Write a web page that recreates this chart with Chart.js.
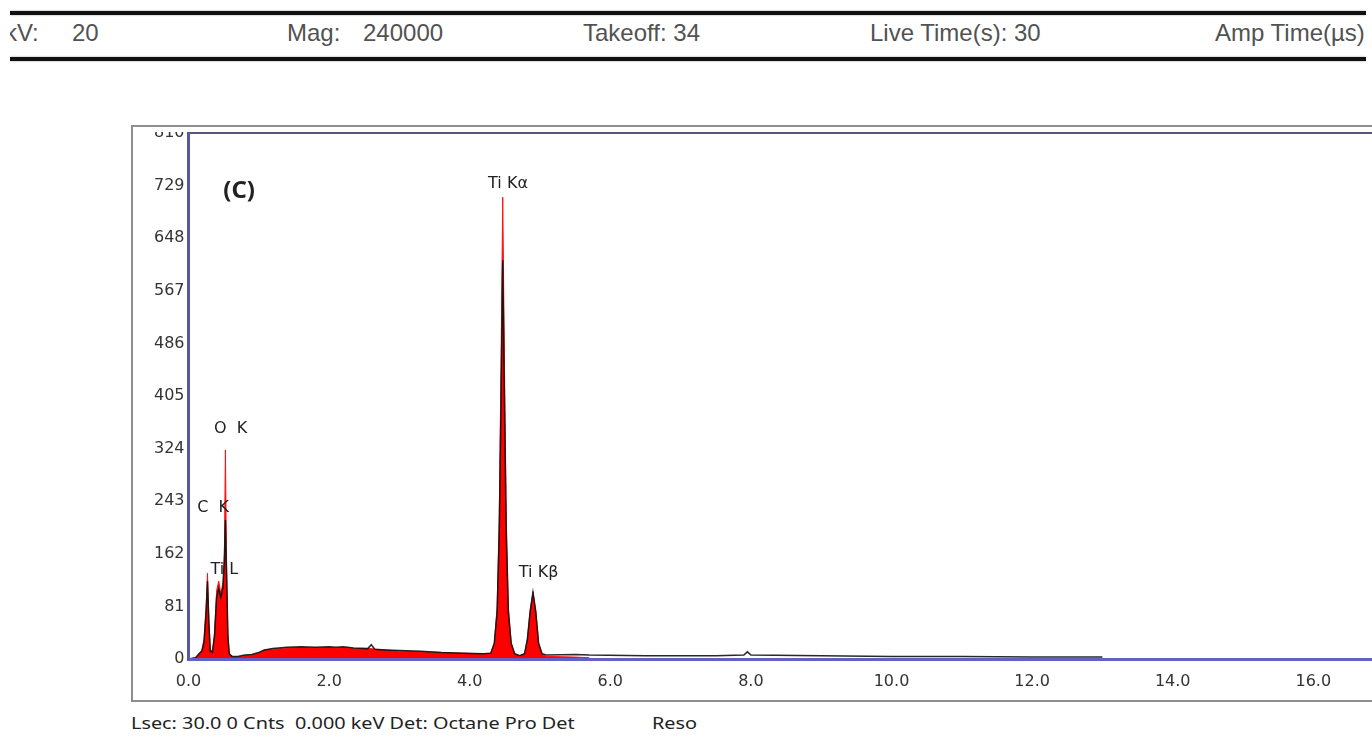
<!DOCTYPE html>
<html>
<head>
<meta charset="utf-8">
<script src="https://cdn.jsdelivr.net/npm/chart.js@4.4.1/dist/chart.umd.min.js"></script>
<style>
html, body { margin: 0; padding: 0; width: 1372px; height: 737px; overflow: hidden; background: #fff; }
#header { position: absolute; left: 10px; top: 0; width: 1356px; height: 70px; overflow: hidden; }
.rule { position: absolute; left: 0; right: 0; height: 4px; background: #111; box-shadow: 0 0 2px #888; }
.htxt { position: absolute; top: 19px; font-family: "Liberation Sans", Arial, sans-serif; font-size: 24px;
        line-height: 28px; color: #525252; white-space: pre; }
#frame { position: absolute; left: 131px; top: 125px; width: 1300px; height: 577px;
         border: 2px solid #8e8e8e; border-right: none; box-sizing: border-box; }
#clip { position: absolute; left: 0; top: 5px; right: 0; bottom: 0; overflow: hidden; }
#plot { position: absolute; left: 0; top: -20px; }
.ftxt { position: absolute; top: 712px; font-family: "Noto Sans", sans-serif; font-size: 16px;
        line-height: 22px; color: #222; white-space: pre; transform: scaleX(1.24); transform-origin: left center; }
</style>
</head>
<body>
<div id="header">
    <div class="rule" style="top: 11px;"></div>
    <div class="rule" style="top: 57px;"></div>
    <span class="htxt" style="left: -5px;">kV:</span>
    <span class="htxt" style="left: 62px;">20</span>
    <span class="htxt" style="left: 277px;">Mag:</span>
    <span class="htxt" style="left: 353px;">240000</span>
    <span class="htxt" style="left: 573px;">Takeoff: 34</span>
    <span class="htxt" style="left: 860px;">Live Time(s): 30</span>
    <span class="htxt" style="left: 1205px;">Amp Time(µs)</span>
</div>

<div id="frame">
    <div id="clip">
        <canvas id="plot" width="1239" height="588"></canvas>
    </div>
</div>

<span class="ftxt" style="left: 131px;">Lsec: 30.0 0 Cnts  0.000 keV Det: Octane Pro Det</span>
<span class="ftxt" style="left: 652px;">Reso</span>

<script>
// energy axis (keV) and counts
const energy = [0.00, 0.10, 0.15, 0.19, 0.22, 0.25, 0.27, 0.29, 0.31, 0.34, 0.37, 0.40, 0.43, 0.46, 0.49,
    0.51, 0.525, 0.54, 0.56, 0.58, 0.62, 0.70, 0.80, 0.90, 1.00, 1.08, 1.20, 1.40, 1.60, 1.80, 2.00,
    2.10, 2.20, 2.35, 2.55, 2.60, 2.65, 2.80, 3.00, 3.30, 3.60, 3.90, 4.20, 4.30, 4.35, 4.39, 4.42,
    4.445, 4.47, 4.495, 4.52, 4.55, 4.59, 4.64, 4.71, 4.78, 4.82, 4.86, 4.90, 4.94, 4.98, 5.03, 5.10,
    5.50, 5.70, 6.50, 7.50, 7.90, 7.95, 8.00, 9.00, 10.00, 11.00, 12.00, 13.00];

// red filled spectrum
const countsRed = [0, 2, 8, 14, 30, 80, 132, 60, 15, 12, 40, 105, 120, 100, 118,
    160, 322, 150, 40, 8, 3, 3, 5, 6, 9, 14, 15, 17, 18, 17, 18,
    17, 18, 16, 16, 16, 15, 14, 12, 11, 10, 9, 8, 9, 25, 80, 220,
    450, 711, 450, 220, 80, 25, 8, 5, 8, 30, 75, 104, 75, 25, 7, 4,
    3, 2, null, null, null, null, null, null, null, null, null, null];

// dark overlay spectrum
const countsDark = [0, 2, 8, 12, 25, 70, 120, 55, 12, 10, 35, 95, 108, 95, 110,
    150, 214, 140, 35, 8, 4, 4, 6, 7, 10, 14, 16, 18, 19, 18, 19,
    18, 19, 17, 16, 22, 15, 14, 13, 12, 10, 9, 8, 9, 24, 72, 190,
    390, 614, 390, 190, 72, 24, 8, 5, 8, 30, 73, 102, 72, 24, 8, 6,
    7, 6, 5, 5, 6, 11, 6, 5, 4, 4, 3, 3];

const xTicks = [0, 2, 4, 6, 8, 10, 12, 14, 16];
const yTicks = [0, 81, 162, 243, 324, 405, 486, 567, 648, 729, 810];

const peakNames = ['C  K', 'O  K', 'Ti L', 'Ti Kα', 'Ti Kβ'];
const peakEnergy = [0.35, 0.60, 0.51, 4.545, 4.98];
const peakLabelHeight = [233, 354, 137, 732, 133];

const panelLabel = '(C)';
const panelEnergy = 0.72;
const panelHeight = 720;

const xMax = 16.835;

const pointsOf = (ys) => energy.map((e, i) => ({ x: e, y: ys[i] }));

// top edge of the plot box and the peak names
const annotate = {
    id: 'annotate',
    afterDatasetsDraw(chart) {
        const { ctx, chartArea, scales: { x, y } } = chart;
        ctx.save();
        ctx.strokeStyle = '#56567e';
        ctx.lineWidth = 2;
        ctx.beginPath();
        ctx.moveTo(chartArea.left, chartArea.top);
        ctx.lineTo(chartArea.right, chartArea.top);
        ctx.stroke();

        ctx.fillStyle = '#222';
        ctx.textAlign = 'center';
        ctx.textBaseline = 'middle';
        ctx.font = '16px "DejaVu Sans", sans-serif';
        peakNames.forEach((name, i) => {
            ctx.fillText(name, x.getPixelForValue(peakEnergy[i]), y.getPixelForValue(peakLabelHeight[i]));
        });

        ctx.font = 'bold 24px "Noto Sans", sans-serif';
        ctx.fillText(panelLabel, x.getPixelForValue(panelEnergy), y.getPixelForValue(panelHeight));
        ctx.restore();
    }
};

Chart.defaults.font.family = '"DejaVu Sans", sans-serif';
Chart.defaults.font.size = 16;
Chart.defaults.color = '#333';

new Chart(document.getElementById('plot'), {
    type: 'line',
    data: {
        datasets: [{
            label: 'spectrum',
            data: pointsOf(countsRed),
            borderColor: '#ff1010',
            backgroundColor: '#ff0000',
            borderWidth: 1,
            fill: 'origin',
            pointRadius: 0,
            tension: 0,
            order: 2
        }, {
            label: 'overlay',
            data: pointsOf(countsDark),
            borderColor: 'rgba(12, 20, 18, 0.9)',
            borderWidth: 1.5,
            fill: false,
            pointRadius: 0,
            tension: 0,
            order: 1
        }]
    },
    options: {
        responsive: false,
        animation: false,
        layout: { padding: { top: 21, left: 0, right: 0, bottom: 0 } },
        plugins: {
            legend: { display: false },
            tooltip: { enabled: false }
        },
        scales: {
            x: {
                type: 'linear',
                min: 0,
                max: xMax,
                grid: { display: false, drawTicks: false },
                border: { display: true, color: '#6262c4', width: 3, z: 1 },
                afterBuildTicks: (scale) => { scale.ticks = xTicks.map(v => ({ value: v })); },
                afterFit: (scale) => { scale.height = 41; },
                ticks: {
                    padding: 13,
                    maxRotation: 0,
                    autoSkip: false,
                    includeBounds: false,
                    callback: (v) => Number(v).toFixed(1)
                }
            },
            y: {
                type: 'linear',
                min: 0,
                max: 810,
                grid: { display: false, drawTicks: false },
                border: { display: true, color: '#58589e', width: 3, z: 1 },
                afterBuildTicks: (scale) => { scale.ticks = yTicks.map(v => ({ value: v })); },
                afterFit: (scale) => { scale.width = 55.5; },
                ticks: { padding: 4, autoSkip: false }
            }
        }
    },
    plugins: [annotate]
});
</script>
</body>
</html>
